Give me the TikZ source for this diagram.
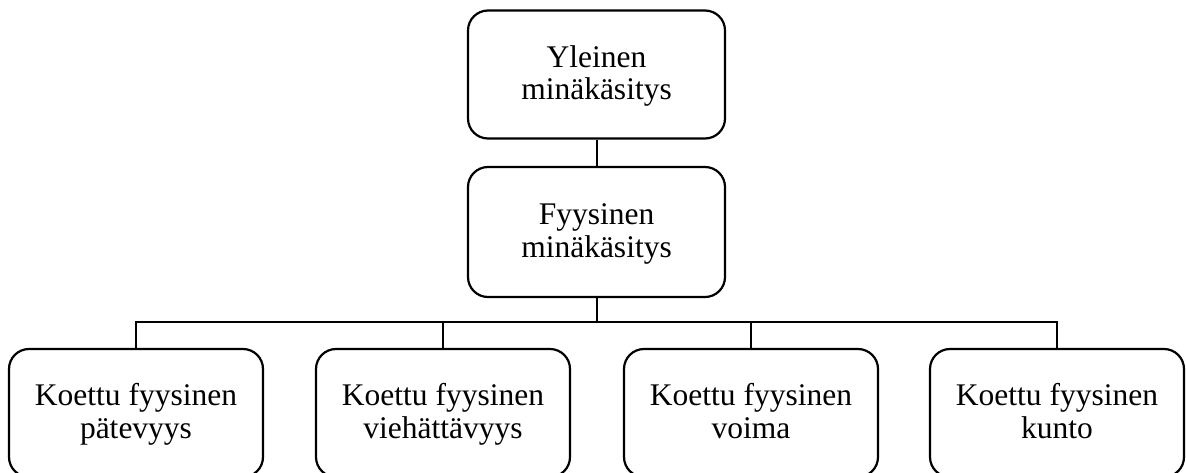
\documentclass[tikz,border=0pt]{standalone}
\usepackage{fontspec}
\setmainfont{Liberation Serif}
% opening strut: a little taller than \strut so the text block sits slightly low
\newcommand\openstrut{\rule{0pt}{28pt}}
\begin{document}
\begin{tikzpicture}[x=1pt,y=-1pt,
  concept/.style={draw, line width=2.2pt, rounded corners=20pt, align=center,
    inner sep=0pt, font=\fontsize{31.5}{32.5}\selectfont},
  topbox/.style={concept, minimum width=257pt, minimum height=128pt},
  leafbox/.style={concept, minimum width=254pt, minimum height=128pt},
  link/.style={line width=2pt}]
  \useasboundingbox (0,0) rectangle (1186,472);

  % hierarchy: general -> physical -> four perceived sub-areas
  \node[topbox] (general) at (596.5,74.5) {\openstrut Yleinen\\minäkäsitys\strut};
  \node[topbox, minimum height=130pt] (physical) at (596.5,232) {\openstrut Fyysinen\\minäkäsitys\strut};

  \node[leafbox] (competence) at (136,413)  {\openstrut Koettu fyysinen\\pätevyys\strut};
  \node[leafbox] (attract)    at (443,413)  {\openstrut Koettu fyysinen\\viehättävyys\strut};
  \node[leafbox] (strength)   at (751,413)  {\openstrut Koettu fyysinen\\voima\strut};
  \node[leafbox] (fitness)    at (1057,413) {\openstrut Koettu fyysinen\\kunto\strut};

  \coordinate (bar) at (0,322);

  \draw[link] (general.south) -- (physical.north);
  \draw[link] (physical.south) -- (physical.south |- bar);
  \draw[link] (competence.north) -- (competence.north |- bar) -- (fitness.north |- bar) -- (fitness.north);
  \draw[link] (attract.north) -- (attract.north |- bar);
  \draw[link] (strength.north) -- (strength.north |- bar);
\end{tikzpicture}
\end{document}
